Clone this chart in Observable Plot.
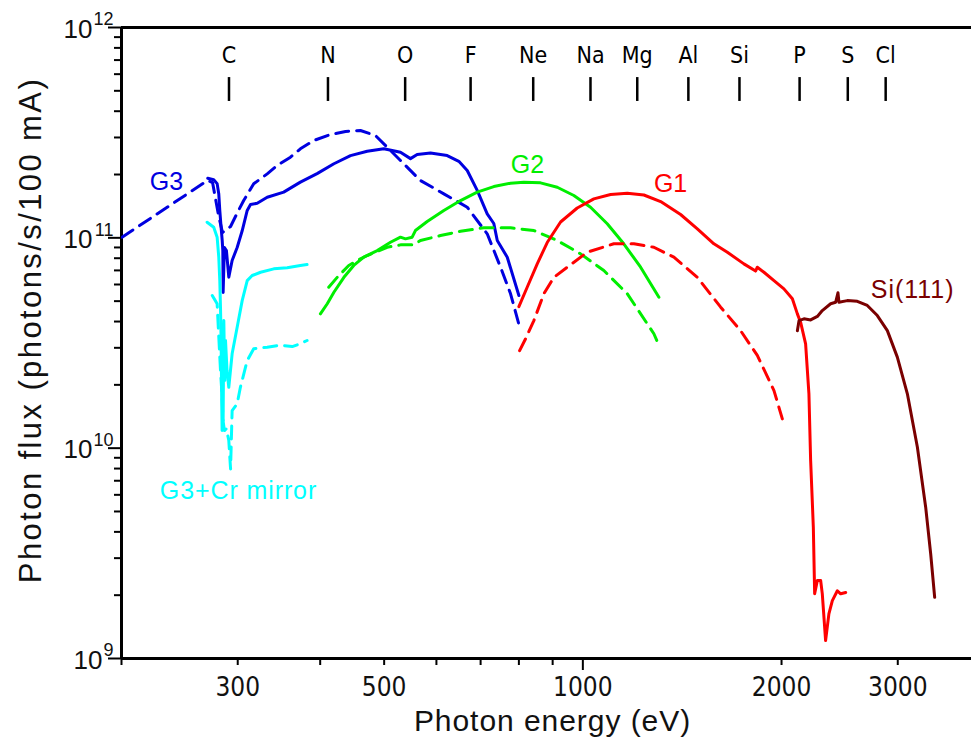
<!DOCTYPE html>
<html>
<head>
<meta charset="utf-8">
<script src="https://cdn.jsdelivr.net/npm/d3@7"></script>
<script src="https://cdn.jsdelivr.net/npm/@observablehq/plot@0.6"></script>
<style>
  html, body { margin: 0; padding: 0; background: #fff; }
  #chart { width: 971px; height: 737px; }
</style>
</head>
<body>
<div id="chart"></div>
<script>
// ---- data: [photon energy (eV), photon flux (photons/s/100 mA)] ----
const g3Solid = [[270.2,1.92e11],[275.9,1.89e11],[279.2,1.81e11],[280.8,1.62e11],[281.8,1.35e11],[283.1,1.12e11],[284.2,9.7e10],[284.8,8.7e10],[285.1,5.5e10],[286.4,9.0e10],[288.4,8.7e10],[290.8,6.5e10],[294.2,7.8e10],[299.4,9.0e10],[304.7,1.08e11],[310.1,1.35e11],[313.7,1.44e11],[321.1,1.46e11],[332.5,1.56e11],[352.2,1.65e11],[373.3,1.84e11],[395.7,2.02e11],[419.6,2.25e11],[444.6,2.46e11],[471.3,2.58e11],[499.4,2.65e11],[529.3,2.55e11],[548.1,2.38e11],[561,2.49e11],[587.7,2.53e11],[623,2.46e11],[648.8,2.31e11],[668.1,2.09e11],[691.8,1.68e11],[716.3,1.30e11],[733,1.17e11],[741.9,9.71e10],[768.2,8.09e10],[800,5.32e10]];
const g3Dashed = [[200.4,1.007e11],[270.0,1.873e11],[274.8,1.832e11],[280.6,1.276e11],[284.5,1.06e11],[292.6,1.132e11],[299.8,1.323e11],[306.3,1.504e11],[317.2,1.807e11],[332.5,2.015e11],[344.3,2.207e11],[360.6,2.417e11],[373.3,2.65e11],[391.1,2.902e11],[414.8,3.099e11],[437,3.203e11],[460.3,3.238e11],[485.1,3.065e11],[511.2,2.601e11],[529.3,2.332e11],[567.5,1.873e11],[615.7,1.619e11],[668.1,1.398e11],[716.3,1.045e11],[750.4,7.25e10],[777.1,5.42e10],[804.8,3.62e10]];
const cySolid = [[269.6,1.186e11],[275.9,1.123e11],[279.2,1.007e11],[280.8,8.09e10],[281.8,6.26e10],[282.5,4.68e10],[283.1,3.25e10],[283.7,1.684e10],[284.1,1.212e10],[284.5,3.62e10],[285.1,1.353e10],[285.8,4.04e10],[286.7,2.10e10],[287.5,3.25e10],[289.0,2.34e10],[290.8,1.948e10],[294.2,2.81e10],[299.4,3.76e10],[304.7,5.03e10],[310.1,6.26e10],[315.5,6.62e10],[324.9,6.86e10],[340.2,7.12e10],[356.5,7.20e10],[373.3,7.39e10],[382.1,7.46e10]];
const cyDashed = [[274.5,5.32e10],[279.2,4.86e10],[281.0,3.25e10],[282.5,2.34e10],[284.0,1.779e10],[285.0,1.353e10],[286.4,1.212e10],[288.4,1.239e10],[290.8,1.087e10],[292.6,7.97e9],[294.2,1.509e10],[299.4,1.624e10],[302.8,1.948e10],[310.1,2.61e10],[317.2,2.97e10],[332.5,3.02e10],[348.2,3.09e10],[362.8,3.04e10],[373.3,3.14e10],[382.1,3.25e10]];
const g2Solid = [[400.3,4.35e10],[410.0,4.86e10],[419.6,5.51e10],[434.5,6.49e10],[449.7,7.39e10],[465.7,8.09e10],[488.1,8.70e10],[511.2,9.53e10],[529.3,1.007e11],[538.6,9.89e10],[551.3,1.007e11],[557.6,1.083e11],[581.0,1.195e11],[615.7,1.348e11],[652.6,1.504e11],[691.8,1.648e11],[733,1.753e11],[777.1,1.818e11],[813.9,1.838e11],[862.8,1.826e11],[914.6,1.74e11],[969.1,1.589e11],[1027.2,1.398e11],[1088.8,1.166e11],[1153.4,9.37e10],[1223.3,7.25e10],[1303.9,5.22e10]];
const g2Dashed = [[412.1,5.82e10],[424.5,6.49e10],[441.9,7.39e10],[460.3,7.95e10],[471.3,8.24e10],[505.3,9.02e10],[529.3,9.26e10],[554.5,9.26e10],[567.5,9.71e10],[608.6,1.025e11],[652.6,1.075e11],[707.9,1.116e11],[777.1,1.116e11],[842.9,1.083e11],[914.6,9.71e10],[992.0,8.39e10],[1076.0,6.99e10],[1167.6,5.42e10],[1281.2,3.50e10],[1302.4,3.11e10]];
const g1Solid = [[800,4.71e10],[823.5,5.82e10],[852.9,7.52e10],[883.1,9.50e10],[925.2,1.189e11],[980.6,1.386e11],[1039.1,1.532e11],[1101.6,1.607e11],[1167.6,1.63e11],[1237.4,1.598e11],[1311.9,1.488e11],[1406.4,1.291e11],[1491,1.104e11],[1579.6,9.37e10],[1655.5,8.54e10],[1753.9,7.52e10],[1826.9,6.95e10],[1837.9,7.25e10],[1881,6.86e10],[1947.9,6.26e10],[2016.8,5.72e10],[2077,5.13e10],[2113.6,4.35e10],[2137.9,3.96e10],[2175.2,3.13e10],[2200.5,1.813e10],[2213.7,8.73e9],[2234.6,4.21e9],[2244.9,2.03e9],[2266.1,2.35e9],[2292.4,2.35e9],[2305.6,2.03e9],[2332.3,1.217e9],[2359.3,1.63e9],[2387.8,1.885e9],[2429.8,2.10e9],[2458,2.03e9],[2501.4,2.06e9]];
const g1Dashed = [[802.0,2.91e10],[818.8,3.31e10],[842.9,4.04e10],[872.8,5.42e10],[903.8,6.49e10],[947.0,7.25e10],[1015.5,8.54e10],[1114.2,9.37e10],[1194.9,9.37e10],[1281.2,9.02e10],[1373.8,8.09e10],[1491,6.49e10],[1617.4,4.68e10],[1733.8,3.62e10],[1837.9,2.76e10],[1947.9,1.879e10],[2005.6,1.378e10]];
const si111 = [[2113.6,3.62e10],[2125.7,4.04e10],[2162.7,4.12e10],[2213.7,4.07e10],[2266.1,4.23e10],[2305.6,4.51e10],[2373.5,4.86e10],[2415.5,4.94e10],[2435,5.48e10],[2443.5,4.94e10],[2515.6,5.03e10],[2605.2,4.99e10],[2697.5,4.77e10],[2793.5,4.27e10],[2892.9,3.62e10],[2995.4,2.71e10],[3102.1,1.813e10],[3212.6,1.01e10],[3306.9,5.24e9],[3365.3,3.14e9],[3412.2,1.954e9]];

const elementNames = ["C","N","O","F","Ne","Na","Mg","Al","Si","P","S","Cl"];
const elementEnergies = [291,411,538,676,841,1027,1209,1445,1727,2130,2520,2876];

const curveLabels = ["G3","G2","G1","Si(111)","G3+Cr mirror"];
const curveLabelE = [233.9,824.4,1358,3160,300.8];
const curveLabelF = [1.85e11,2.23e11,1.81e11,5.62e10,6.29e9];
const curveLabelColors = ["#0000e0","#00ee00","#ff0000","#7a0000","#00ffff"];

const xTickLabels = [300,500,1000,2000,3000];
const xMinorTicks = [200,300,400,500,600,700,800,900,2000,3000];
const xMajorTicks = [1000];
const yDecades = [1e9,1e10,1e11,1e12];
const yMinorTicks = [1e9,1e10,1e11].flatMap(d => [2,3,4,5,6,7,8,9].map(k => k*d));

const xTitle = "Photon energy (eV)";
const yTitle = "Photon flux (photons/s/100 mA)";

// ---- chart ----
const X0 = 200, X1 = 3880;
const elements = elementNames.map((n,i) => ({name:n, e:elementEnergies[i]}));
const labels = curveLabels.map((t,i) => ({t, e:curveLabelE[i], f:curveLabelF[i], c:curveLabelColors[i]}));
const px = d => d[0], py = d => d[1];
const narrow = "'Liberation Sans Narrow','DejaVu Sans Condensed','Liberation Sans',sans-serif";
const sans = "'Liberation Sans',Arial,sans-serif";
const dash = "13,8";

const chart = Plot.plot({
  width: 971, height: 737,
  marginLeft: 121, marginRight: 0, marginTop: 27, marginBottom: 79,
  style: {background: "#fff", fontFamily: sans, overflow: "visible"},
  x: {type: "log", domain: [X0, X1]},
  y: {type: "log", domain: [1e9, 1e12]},
  marks: [
    // axis ticks
    Plot.axisX({ticks: xMinorTicks, tickSize: 7, tickFormat: () => "", strokeWidth: 2, label: null}),
    Plot.axisX({ticks: xMajorTicks, tickSize: 12, tickFormat: () => "", strokeWidth: 2, label: null}),
    Plot.axisX({ticks: xTickLabels, tickSize: 0, tickPadding: 19, tickFormat: d => String(d), fontSize: 26, fontFamily: narrow, fill: "#111", label: null}),
    Plot.axisY({ticks: yMinorTicks, tickSize: 7, tickFormat: () => "", strokeWidth: 2, label: null}),
    Plot.axisY({ticks: yDecades, tickSize: 13, tickFormat: () => "", strokeWidth: 2, label: null}),
    // y decade labels 10^n
    Plot.text(yDecades.filter(d => d >= 1e10), {x: X0, y: d => d, text: () => "10", textAnchor: "end", dx: -29, dy: 2, fontSize: 26, fontFamily: sans, fill: "#111"}),
    Plot.text(yDecades.filter(d => d < 1e10), {x: X0, y: d => d, text: () => "10", textAnchor: "end", dx: -19, dy: 2, fontSize: 26, fontFamily: sans, fill: "#111"}),
    Plot.text(yDecades, {x: X0, y: d => d, text: d => String(Math.round(Math.log10(d))), textAnchor: "end", dx: -8, dy: -8, fontSize: 18, fontFamily: sans, fill: "#111"}),
    // frame
    Plot.ruleX([X0], {strokeWidth: 3}),
    Plot.ruleY([1e9], {strokeWidth: 3}),
    Plot.ruleY([1e12], {strokeWidth: 3}),
    // element markers
    Plot.ruleX(elements, {x: "e", y1: 5.78e11, y2: 4.45e11, strokeWidth: 2.5, stroke: "#000"}),
    Plot.text(elements, {x: "e", y: 7.36e11, text: "name", fontSize: 23, fontFamily: narrow, fill: "#000"}),
    // curves
    Plot.line(g3Dashed, {x: px, y: py, stroke: "#0000e0", strokeWidth: 3, strokeDasharray: dash, clip: true}),
    Plot.line(g3Solid, {x: px, y: py, stroke: "#0000e0", strokeWidth: 3, clip: true}),
    Plot.line(cyDashed, {x: px, y: py, stroke: "#00ffff", strokeWidth: 3, strokeDasharray: dash}),
    Plot.line(cySolid, {x: px, y: py, stroke: "#00ffff", strokeWidth: 3}),
    Plot.line(g2Dashed, {x: px, y: py, stroke: "#00ee00", strokeWidth: 3, strokeDasharray: dash}),
    Plot.line(g2Solid, {x: px, y: py, stroke: "#00ee00", strokeWidth: 3}),
    Plot.line(g1Dashed, {x: px, y: py, stroke: "#ff0000", strokeWidth: 3, strokeDasharray: dash}),
    Plot.line(g1Solid, {x: px, y: py, stroke: "#ff0000", strokeWidth: 3}),
    Plot.line(si111, {x: px, y: py, stroke: "#7a0000", strokeWidth: 3}),
    // curve labels
    Plot.text(labels, {x: "e", y: "f", text: "t", fill: "c", fontSize: 25, fontFamily: sans}),
    // axis titles
    Plot.text([xTitle], {frameAnchor: "bottom", text: d => d, textAnchor: "middle", lineAnchor: "middle", dx: 6, dy: 63, fontSize: 30, fontFamily: sans, fill: "#111"}),
    Plot.text([yTitle], {frameAnchor: "left", text: d => d, textAnchor: "middle", lineAnchor: "middle", rotate: -90, dx: -90, dy: -13, fontSize: 31, fontFamily: sans, fill: "#111"})
  ]
});
// letter spacing to match the reference's wider glyph spacing
const spacing = new Map([[yTitle, "2.4px"], [xTitle, "0.95px"], ["G3+Cr mirror", "0.9px"], ["Si(111)", "1px"]]);
d3.select(chart).selectAll("text").each(function() {
  const s = spacing.get(this.textContent);
  if (s) this.style.letterSpacing = s;
});
document.getElementById("chart").appendChild(chart);
</script>
</body>
</html>
